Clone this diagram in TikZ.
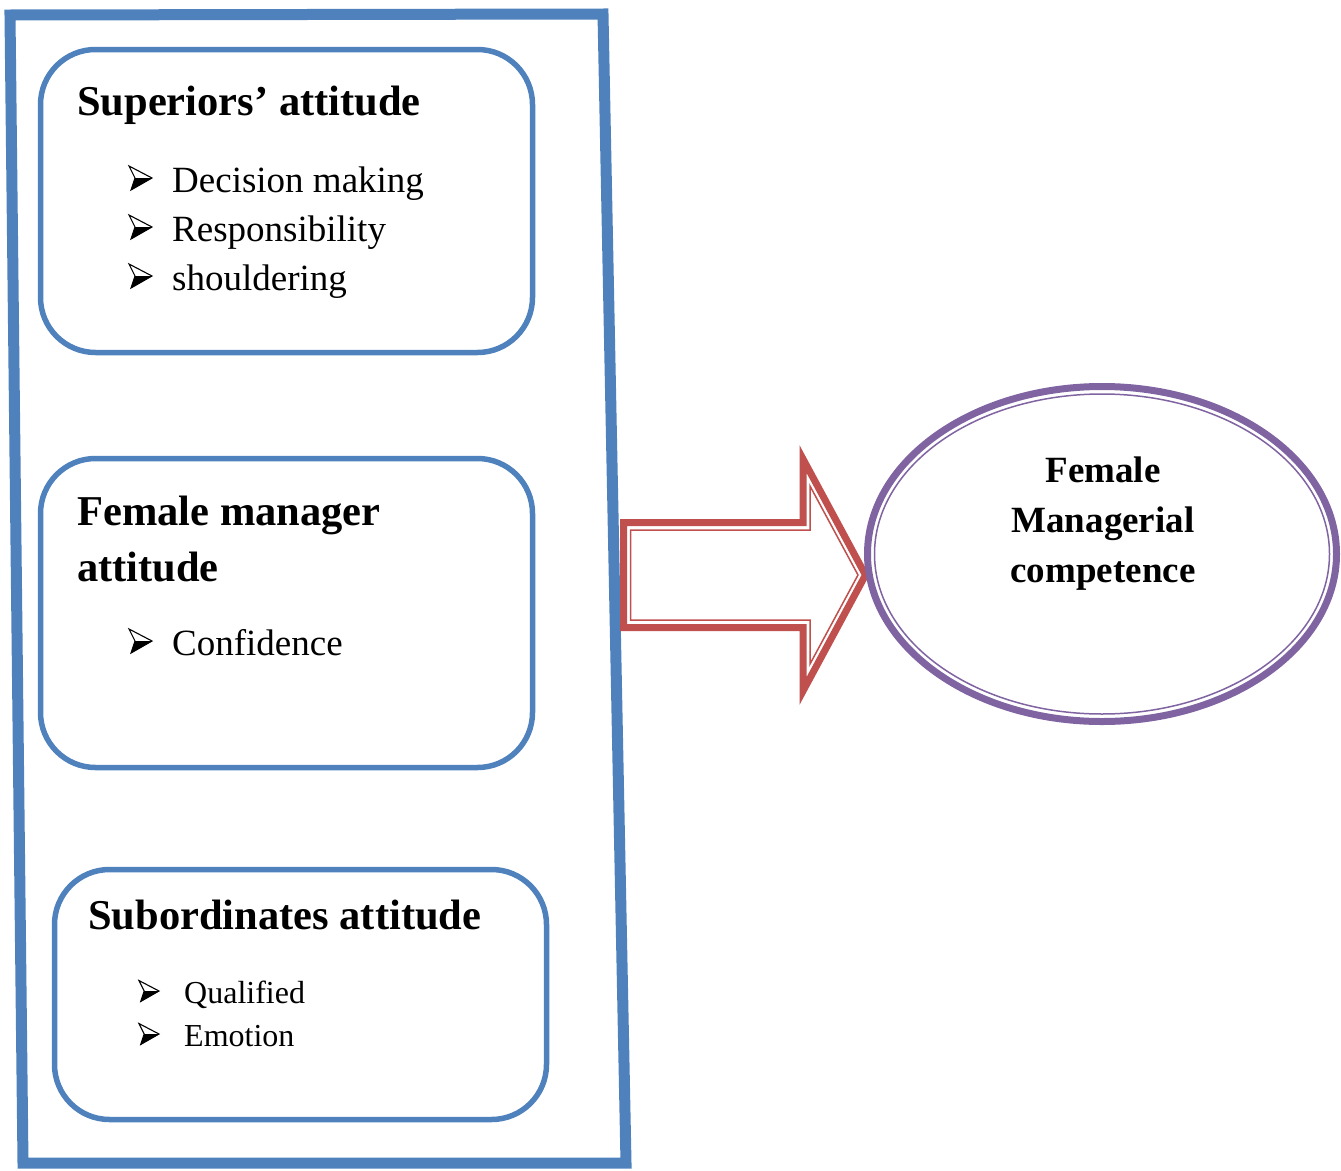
\documentclass[tikz,border=0pt]{standalone}
\usepackage{fontspec}
\setmainfont{Liberation Serif}
\usetikzlibrary{shapes.geometric}
\definecolor{bblue}{HTML}{4F81BD}
\definecolor{rred}{HTML}{C0504D}
\definecolor{ppurple}{HTML}{8064A2}
\tikzset{
  roundbox/.style={draw=bblue, line width=5.5pt, rounded corners=55pt, inner sep=0pt, minimum width=492pt},
  headtxt/.style={font=\fontsize{42.5}{56}\selectfont\bfseries, anchor=base west, inner sep=0pt},
  itemtxt/.style={font=\fontsize{37}{49}\selectfont, anchor=base west, inner sep=0pt},
  smalltxt/.style={font=\fontsize{32}{43}\selectfont, anchor=base west, inner sep=0pt},
  outtxt/.style={font=\fontsize{37}{50}\selectfont\bfseries, anchor=base, inner sep=0pt},
  barrow/.pic={
    \draw[line width=1.1pt, line join=miter] (0,-12) -- (23,0) -- (2,12) -- (6,0) -- cycle;
    \fill (6,0) -- (23,0) -- (2,12) -- cycle;
  }
}
\begin{document}
\begin{tikzpicture}[x=1pt,y=-1pt]
\useasboundingbox (0,0) rectangle (1341,1170);
% outer slanted frame
\draw[bblue, line width=11pt, line join=miter] (10,15) -- (603,14) -- (626,1163) -- (23,1163) -- cycle;
% inner boxes
\node[roundbox, minimum height=303pt] (sup) at (286.5,201) {};
\node[roundbox, minimum height=309pt] (fem) at (286.5,613) {};
\node[roundbox, minimum height=250pt] (sub) at (300.5,994.5) {};
% box 1 text
\node[headtxt] (supH) at (77,115) {Superiors’ attitude};
\pic at (129,178) {barrow};
\node[itemtxt] (s1) at (172,192) {Decision making};
\pic at (129,227) {barrow};
\node[itemtxt] (s2) at (172,241) {Responsibility};
\pic at (129,276) {barrow};
\node[itemtxt] (s3) at (172,290) {shouldering};
% box 2 text
\node[headtxt] (femH1) at (77,525) {Female manager};
\node[headtxt] (femH2) at (77,581) {attitude};
\pic at (129,641) {barrow};
\node[itemtxt] (f1) at (172,655) {Confidence};
% box 3 text
\node[headtxt] (subH) at (88,929) {Subordinates attitude};
\pic[scale=0.87] at (139,991) {barrow};
\node[smalltxt] (b1) at (184,1003) {Qualified};
\pic[scale=0.87] at (139,1034) {barrow};
\node[smalltxt] (b2) at (184,1046) {Emotion};
% block arrow
\draw[rred, line width=7pt, line join=miter, fill=white]
  (623.5,522.5) -- (803,522.5) -- (803,459) -- (865.5,575) -- (803,691) -- (803,627.5) -- (623.5,627.5) -- cycle;
\draw[rred, line width=1.5pt, line join=miter]
  (630.5,530) -- (810,530) -- (810,486) -- (858,575) -- (810,664) -- (810,620) -- (630.5,620) -- cycle;
% ellipse
\node[ellipse, draw=ppurple, line width=7pt, minimum width=469pt, minimum height=335pt, inner sep=0pt] (out) at (1102,554) {};
\draw[ppurple, line width=1.5pt] (out.center) ellipse [x radius=227.5, y radius=160];
\node[outtxt] (o1) at (1103,482) {Female};
\node[outtxt] (o2) at (1103,532) {Managerial};
\node[outtxt] (o3) at (1103,582) {competence};
\end{tikzpicture}
\end{document}
